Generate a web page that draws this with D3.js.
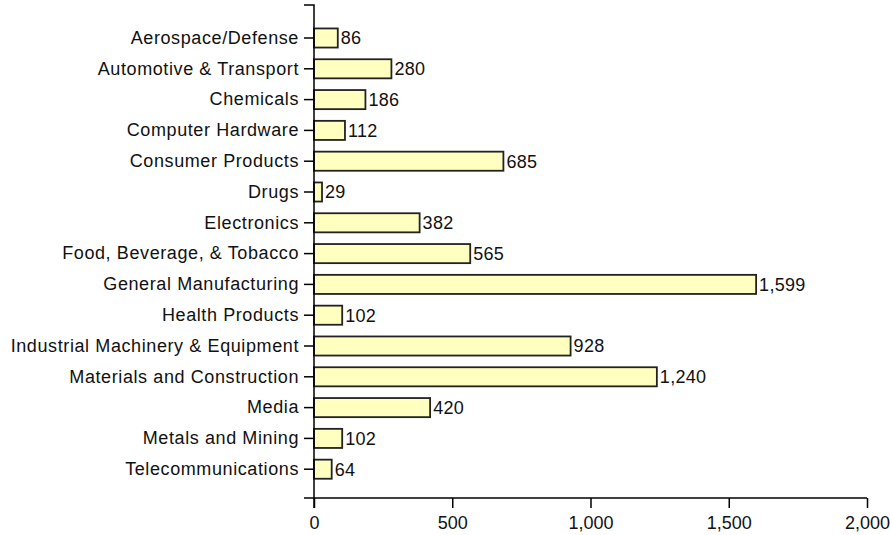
<!DOCTYPE html>
<html><head><meta charset="utf-8">
<script src="https://cdn.jsdelivr.net/npm/d3@7"></script>
<style>
html,body{margin:0;padding:0;background:#fff;}
svg text{font-family:"Liberation Sans",Arial,sans-serif;font-size:18px;fill:#111;}
</style></head>
<body><svg id="c" width="890" height="535"></svg>
<script>
const categories = ["Aerospace/Defense","Automotive & Transport","Chemicals","Computer Hardware","Consumer Products","Drugs","Electronics","Food, Beverage, & Tobacco","General Manufacturing","Health Products","Industrial Machinery & Equipment","Materials and Construction","Media","Metals and Mining","Telecommunications"];
const values = [86,280,186,112,685,29,382,565,1599,102,928,1240,420,102,64];
const xTicks = [0,500,1000,1500,2000];

const svg = d3.select("#c");
const x = d3.scaleLinear().domain([0,2000]).range([314,867]);
const y = d3.scaleBand().domain(categories).range([22.6,484.6]).paddingInner(0.38).paddingOuter(0.19);
const axisY = 498;

// bars
svg.append("g").selectAll("rect").data(values).join("rect")
  .attr("x", x(0))
  .attr("y", (d,i)=>y(categories[i]))
  .attr("width", d=>x(d)-x(0))
  .attr("height", y.bandwidth())
  .attr("fill","#ffffc0")
  .attr("stroke","#222")
  .attr("stroke-width",1.8);

// value labels
svg.append("g").selectAll("text").data(values).join("text")
  .attr("x", d=>x(d)+3)
  .attr("y", (d,i)=>y(categories[i])+y.bandwidth()/2)
  .attr("dy","0.36em")
  .style("letter-spacing","0.3px")
  .text(d=>d3.format(",")(d));

// y axis
const gy = svg.append("g").attr("transform",`translate(${x(0)},0)`)
  .call(d3.axisLeft(y).tickSize(10).tickPadding(5).tickSizeOuter(0));
gy.select(".domain").remove();
gy.selectAll("line").attr("stroke","#000").attr("stroke-width",1.5);
gy.selectAll("text").style("font-size","18px").style("letter-spacing","0.6px").attr("font-family",null);
svg.append("path").attr("d",`M${x(0)-10},5H${x(0)}V${axisY+10}`).attr("fill","none").attr("stroke","#000").attr("stroke-width",1.5);

// x axis
const gx = svg.append("g").attr("transform",`translate(0,${axisY})`)
  .call(d3.axisBottom(x).tickValues(xTicks).tickFormat(d3.format(",")).tickSize(10).tickPadding(8).tickSizeOuter(0));
gx.select(".domain").remove();
gx.selectAll("line").attr("stroke","#000").attr("stroke-width",1.5);
gx.selectAll("text").style("font-size","18px").attr("font-family",null);
svg.append("path").attr("d",`M${x(0)-10},${axisY}H${x(2000)}`).attr("fill","none").attr("stroke","#000").attr("stroke-width",1.5);
</script></body></html>
